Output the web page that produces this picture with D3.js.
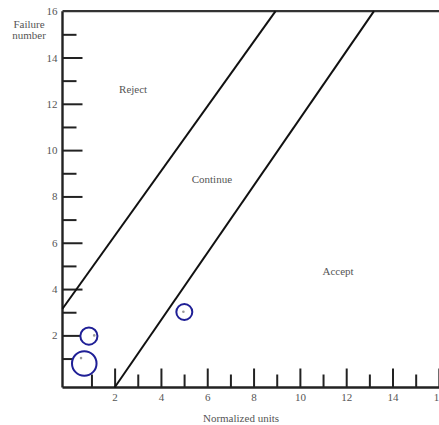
<!DOCTYPE html>
<html>
<head>
<meta charset="utf-8">
<script src="https://cdn.jsdelivr.net/npm/d3@7"></script>
<style>
  body { margin: 0; background: #fff; }
  svg text { font-family: "Liberation Serif", "DejaVu Serif", serif; fill: #555; }
</style>
</head>
<body>
<div id="chart"></div>
<script>
// sequential test chart: failures vs normalized units
var xMajor = [2, 4, 6, 8, 10, 12, 14, 16];
var xMinor = [1, 3, 5, 7, 9, 11, 13, 15];
var yMajor = [2, 4, 6, 8, 10, 12, 14, 16];
var yMinor = [1, 3, 5, 7, 9, 11, 13, 15];

// boundary lines [x, y]
var rejectLine = [[-0.25, 3.15], [8.95, 16]];
var acceptLine = [[2, -0.25], [13.2, 16]];

// observed failures (x, y) and ring around them (center, radius in x units)
var pointX = [0.55, 1.12, 4.97];
var pointY = [1.02, 2.0, 3.02];
var ringX = [0.69, 0.89, 5.01];
var ringY = [0.79, 1.97, 3.01];
var ringR = [0.53, 0.37, 0.345];

var regionLabels = ["Reject", "Continue", "Accept"];
var regionX = [2.8, 6.2, 11.65];
var regionY = [12.6, 8.72, 4.75];

var W = 439, H = 425;
var svg = d3.select("#chart").append("svg")
    .attr("width", W)
    .attr("height", H);

var x = d3.scaleLinear().domain([-0.25, 16.05]).range([62.5, 440]);
var y = d3.scaleLinear().domain([-0.25, 16.05]).range([387.5, 10]);

// axes, ticks pointing inward
function drawAxis(gen, vals, size, labels, tr, pad){
  var g = svg.append("g")
      .attr("transform", tr)
      .call(gen.tickValues(vals).tickSizeInner(-size).tickSizeOuter(0)
        .tickPadding(pad)
        .tickFormat(labels ? d3.format("d") : function(){ return ""; }));
  g.select(".domain").remove();
  g.selectAll(".tick line").attr("stroke", "#222").attr("stroke-width", 2);
  g.selectAll(".tick text").attr("font-size", 11).attr("fill", "#555")
    .style("font-family", "'Liberation Serif', serif");
  return g;
}
drawAxis(d3.axisLeft(y), yMajor.filter(function(d){ return d < 16; }), 20, true, "translate(62.5,0)", 5);
drawAxis(d3.axisLeft(y), yMinor, 14, false, "translate(62.5,0)", 5);
drawAxis(d3.axisBottom(x), xMajor, 19, true, "translate(0,387.5)", 5.5);
drawAxis(d3.axisBottom(x), xMinor, 13, false, "translate(0,387.5)", 5.5);

// "16" label at top of y axis
svg.append("text")
  .attr("x", 57.5).attr("y", y(16)).attr("dy", "0.32em")
  .attr("text-anchor", "end").attr("font-size", 11)
  .text("16");

// frame lines
svg.append("line")
  .attr("x1", x(-0.25)).attr("x2", x(-0.25))
  .attr("y1", y(16)).attr("y2", y(-0.25))
  .attr("stroke", "#222").attr("stroke-width", 2.4);
svg.append("line")
  .attr("x1", x(-0.25)).attr("x2", W)
  .attr("y1", y(-0.25)).attr("y2", y(-0.25))
  .attr("stroke", "#222").attr("stroke-width", 2.4);
svg.append("line")
  .attr("x1", x(-0.25)).attr("x2", W)
  .attr("y1", y(16)).attr("y2", y(16))
  .attr("stroke", "#333").attr("stroke-width", 2.4);

// decision lines
var line = d3.line().x(function(d){ return x(d[0]); }).y(function(d){ return y(d[1]); });
[rejectLine, acceptLine].forEach(function(l){
  svg.append("path").attr("d", line(l))
    .attr("fill", "none").attr("stroke", "#111").attr("stroke-width", 2);
});

// rings and points
ringX.forEach(function(cx, i){
  svg.append("circle")
    .attr("cx", x(cx)).attr("cy", y(ringY[i]))
    .attr("r", x(ringR[i]) - x(0))
    .attr("fill", "#fff").attr("stroke", "#1f1f96").attr("stroke-width", 2);
});
pointX.forEach(function(px, i){
  svg.append("circle")
    .attr("cx", x(px)).attr("cy", y(pointY[i]))
    .attr("r", 1.3).attr("fill", "#999");
});

// region labels
regionLabels.forEach(function(t, i){
  svg.append("text")
    .attr("x", x(regionX[i])).attr("y", y(regionY[i])).attr("dy", "0.32em")
    .attr("text-anchor", "middle").attr("font-size", 11)
    .text(t);
});

// axis titles
svg.append("text").attr("x", 29).attr("y", 28).attr("text-anchor", "middle")
  .attr("font-size", 11).text("Failure");
svg.append("text").attr("x", 29).attr("y", 39).attr("text-anchor", "middle")
  .attr("font-size", 11).text("number");
svg.append("text").attr("x", 241).attr("y", 422).attr("text-anchor", "middle")
  .attr("font-size", 11).text("Normalized units");
</script>
</body>
</html>
